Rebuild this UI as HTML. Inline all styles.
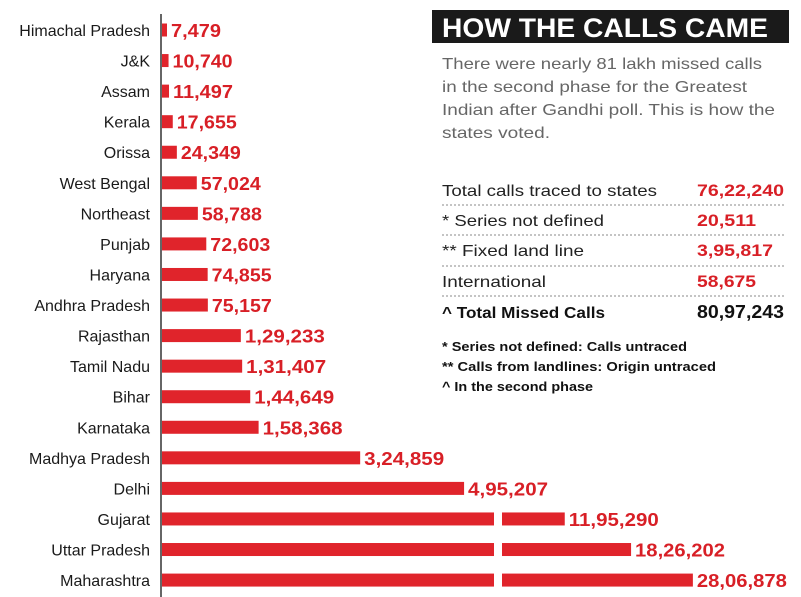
<!DOCTYPE html>
<html><head><meta charset="utf-8">
<style>
html,body{margin:0;padding:0;background:#fff;}
body{width:801px;height:597px;overflow:hidden;position:relative;font-family:"Liberation Sans",sans-serif;}
svg{position:absolute;left:0;top:0;}
</style></head>
<body>
<svg id="chart" width="801" height="597">
  <line x1="161" y1="14" x2="161" y2="597" stroke="#333" stroke-width="1.5"/>
  <g id="bars"></g>
  <g>
    <rect x="432" y="10" width="357" height="33" fill="#1a1a1a"/>
    <text x="442" y="37" fill="#fff" font-size="27" font-weight="bold" textLength="326" lengthAdjust="spacingAndGlyphs">HOW THE CALLS CAME</text>
    <g fill="#666" font-size="16">
      <text x="442" y="69" textLength="320" lengthAdjust="spacingAndGlyphs">There were nearly 81 lakh missed calls</text>
      <text x="442" y="92" textLength="305" lengthAdjust="spacingAndGlyphs">in the second phase for the Greatest</text>
      <text x="442" y="115" textLength="333" lengthAdjust="spacingAndGlyphs">Indian after Gandhi poll. This is how the</text>
      <text x="442" y="138" textLength="108" lengthAdjust="spacingAndGlyphs">states voted.</text>
    </g>
    <g font-size="16">
      <text x="442" y="196" fill="#222" textLength="215" lengthAdjust="spacingAndGlyphs">Total calls traced to states</text>
      <text x="697" y="196" fill="#d81f26" font-weight="bold" font-size="17" textLength="87" lengthAdjust="spacingAndGlyphs">76,22,240</text>
      <line x1="442" y1="205" x2="785" y2="205" stroke="#888" stroke-dasharray="2,2"/>
      <text x="442" y="226" fill="#222" textLength="162" lengthAdjust="spacingAndGlyphs">* Series not defined</text>
      <text x="697" y="226" fill="#d81f26" font-weight="bold" font-size="17" textLength="59" lengthAdjust="spacingAndGlyphs">20,511</text>
      <line x1="442" y1="235" x2="785" y2="235" stroke="#888" stroke-dasharray="2,2"/>
      <text x="442" y="256" fill="#222" textLength="142" lengthAdjust="spacingAndGlyphs">** Fixed land line</text>
      <text x="697" y="256" fill="#d81f26" font-weight="bold" font-size="17" textLength="76" lengthAdjust="spacingAndGlyphs">3,95,817</text>
      <line x1="442" y1="266" x2="785" y2="266" stroke="#888" stroke-dasharray="2,2"/>
      <text x="442" y="287" fill="#222" textLength="104" lengthAdjust="spacingAndGlyphs">International</text>
      <text x="697" y="287" fill="#d81f26" font-weight="bold" font-size="17" textLength="59" lengthAdjust="spacingAndGlyphs">58,675</text>
      <line x1="442" y1="296" x2="785" y2="296" stroke="#888" stroke-dasharray="2,2"/>
      <text x="442" y="318" fill="#111" font-weight="bold" textLength="163" lengthAdjust="spacingAndGlyphs">^ Total Missed Calls</text>
      <text x="697" y="318" fill="#111" font-weight="bold" font-size="18" textLength="87" lengthAdjust="spacingAndGlyphs">80,97,243</text>
    </g>
    <g fill="#111" font-size="13" font-weight="bold">
      <text x="442" y="351" textLength="245" lengthAdjust="spacingAndGlyphs">* Series not defined: Calls untraced</text>
      <text x="442" y="371" textLength="274" lengthAdjust="spacingAndGlyphs">** Calls from landlines: Origin untraced</text>
      <text x="442" y="391" textLength="151" lengthAdjust="spacingAndGlyphs">^ In the second phase</text>
    </g>
  </g>
</svg>
<script>
const states = ["Himachal Pradesh","J&K","Assam","Kerala","Orissa","West Bengal","Northeast","Punjab","Haryana","Andhra Pradesh","Rajasthan","Tamil Nadu","Bihar","Karnataka","Madhya Pradesh","Delhi","Gujarat","Uttar Pradesh","Maharashtra"];
const calls = [7479,10740,11497,17655,24349,57024,58788,72603,74855,75157,129233,131407,144649,158368,324859,495207,1195290,1826202,2806878];
const callLabels = ["7,479","10,740","11,497","17,655","24,349","57,024","58,788","72,603","74,855","75,157","1,29,233","1,31,407","1,44,649","1,58,368","3,24,859","4,95,207","11,95,290","18,26,202","28,06,878"];

const NS = "http://www.w3.org/2000/svg";
const x0 = 162, breakVal = 1000000, breakPx = 494, resumePx = 502;
function xLinear(v){ return x0 + v * 0.00061; }
function xBroken(v){ return resumePx + 0.142 * Math.sqrt(v - breakVal); }
function yRow(i){ return 30 + i * 30.56; }

const g = document.getElementById('bars');
states.forEach((s, i) => {
  const y = yRow(i), v = calls[i];
  const lab = document.createElementNS(NS, 'text');
  
  
  lab.setAttribute('x', 150); lab.setAttribute('y', y + 6);
  lab.setAttribute('text-anchor', 'end'); lab.setAttribute('font-size', '16');
  lab.setAttribute('fill', '#1a1a1a');
  lab.textContent = s; g.appendChild(lab);
  let end;
  if (v > breakVal) {
    const r1 = document.createElementNS(NS, 'rect');
    
    
    r1.setAttribute('x', x0); r1.setAttribute('y', y - 6.5);
    r1.setAttribute('width', breakPx - x0); r1.setAttribute('height', 13);
    r1.setAttribute('fill', '#e0242b'); g.appendChild(r1);
    end = xBroken(v);
    const r2 = document.createElementNS(NS, 'rect');
    
    
    r2.setAttribute('x', resumePx); r2.setAttribute('y', y - 6.5);
    r2.setAttribute('width', end - resumePx); r2.setAttribute('height', 13);
    r2.setAttribute('fill', '#e0242b'); g.appendChild(r2);
  } else {
    end = Math.max(xLinear(v), x0 + 5);
    const r = document.createElementNS(NS, 'rect');
    
    
    r.setAttribute('x', x0); r.setAttribute('y', y - 6.5);
    r.setAttribute('width', end - x0); r.setAttribute('height', 13);
    r.setAttribute('fill', '#e0242b'); g.appendChild(r);
  }
  const t = document.createElementNS(NS, 'text');
  
  
  t.setAttribute('x', end + 4); t.setAttribute('y', y + 7);
  t.setAttribute('font-size', '18'); t.setAttribute('font-weight', 'bold');
  t.setAttribute('fill', '#d81f26');
  t.setAttribute('textLength', callLabels[i].length * 10);
  t.setAttribute('lengthAdjust', 'spacingAndGlyphs');
  t.textContent = callLabels[i]; g.appendChild(t);
});
</script>
</body></html>
